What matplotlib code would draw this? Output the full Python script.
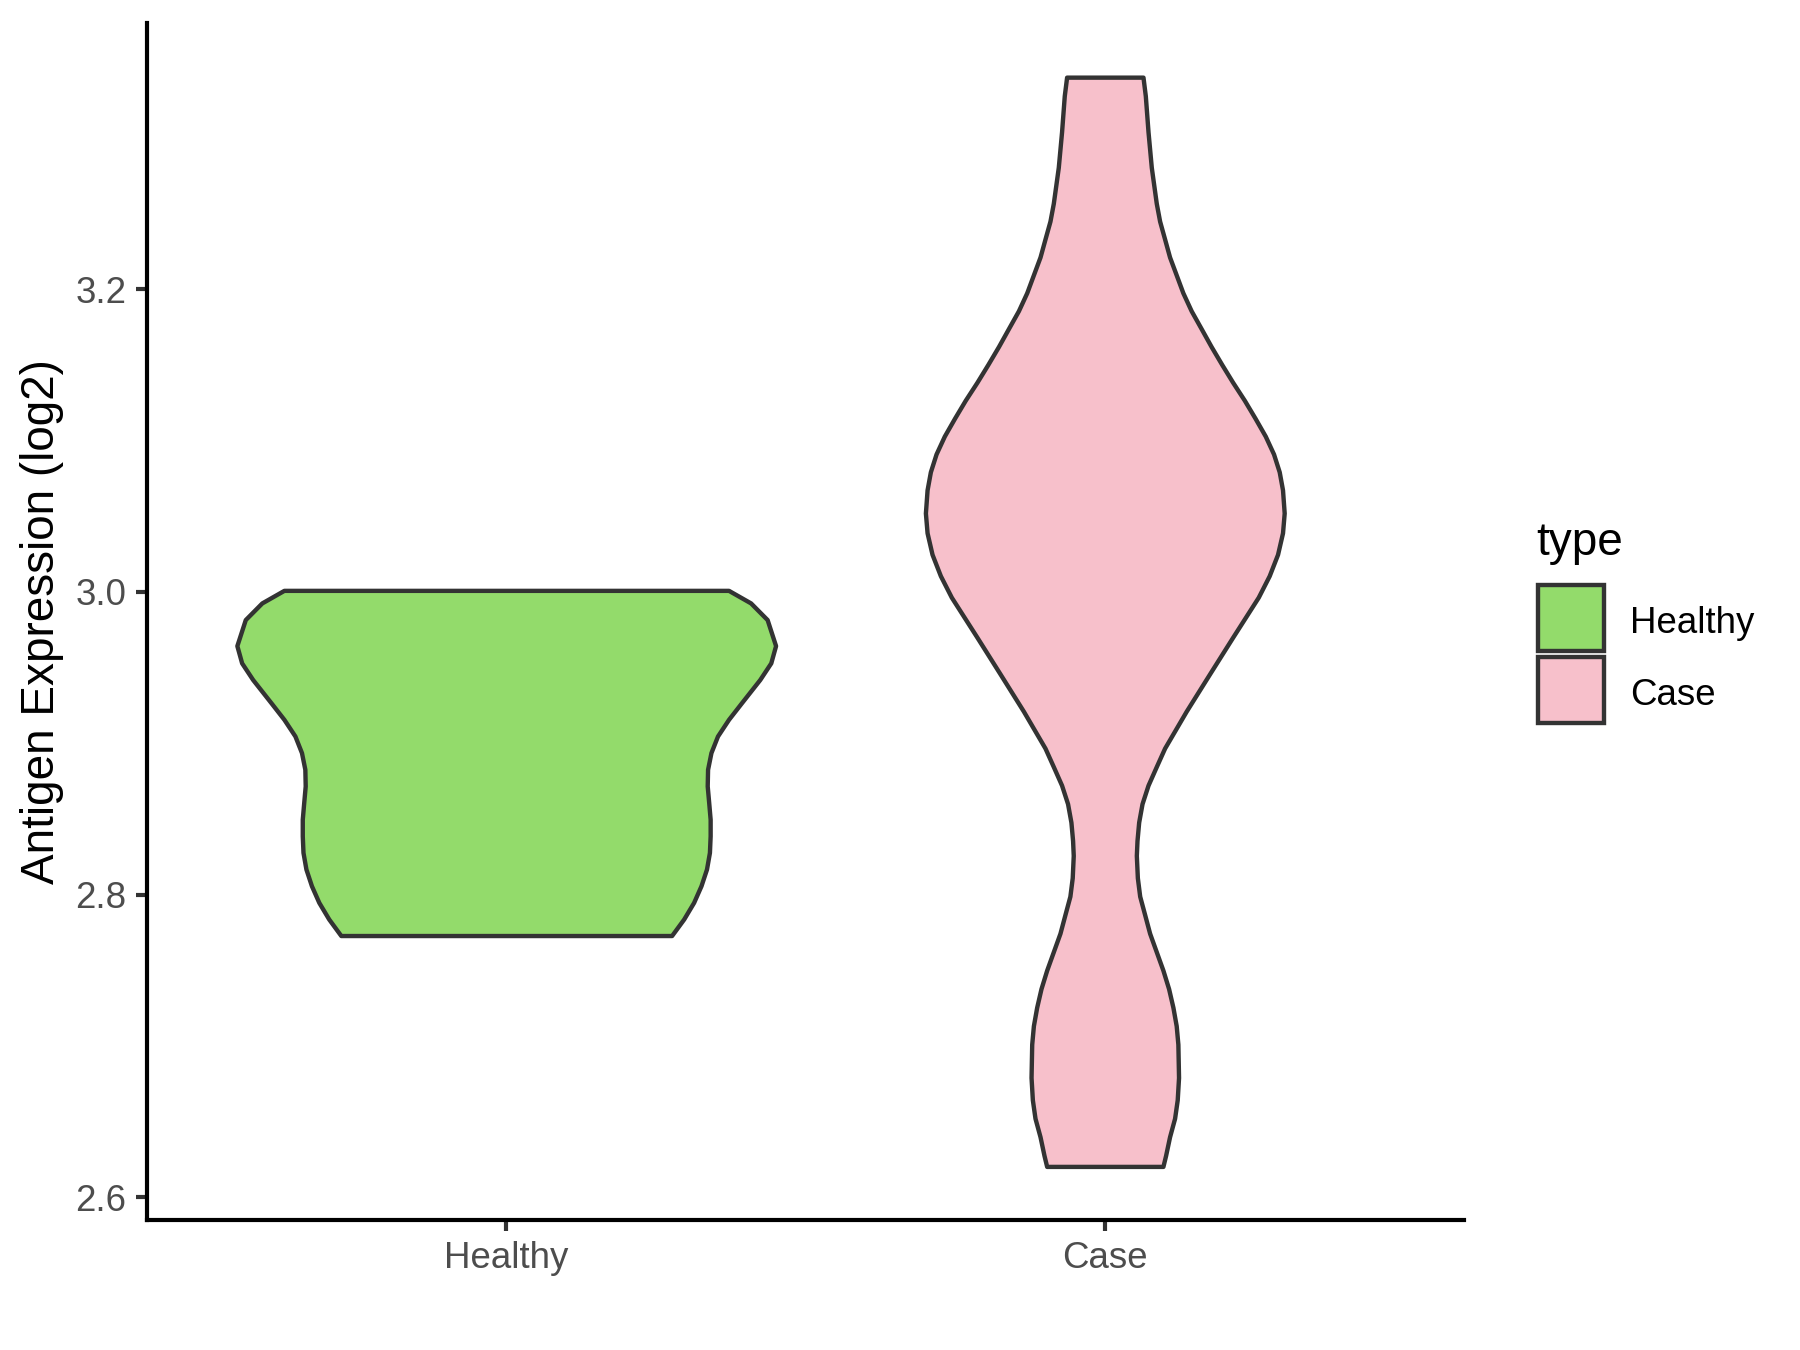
import matplotlib
matplotlib.use("Agg")
import matplotlib.pyplot as plt
from matplotlib.patches import Rectangle
import numpy as np

plt.rcParams['font.family'] = ['Liberation Sans', 'DejaVu Sans']

# ---- data ----
categories = ["Healthy", "Case"]
colors = ["#93DB6B", "#F7C0CB"]
legend_title = "type"
y_label = "Antigen Expression (log2)"
y_ticks = [2.6, 2.8, 3.0, 3.2]
y_tick_labels = ["2.6", "2.8", "3.0", "3.2"]

# violin profiles: y value and half-width (in x-axis units)
healthy_y = [3.0010, 2.9927, 2.9817, 2.9645, 2.9531, 2.9421, 2.9267, 2.9158,
             2.9048, 2.8938, 2.8828, 2.8718, 2.8608, 2.8498, 2.8389, 2.8279,
             2.8169, 2.8059, 2.7949, 2.7839, 2.7730]
healthy_hw = [0.3714, 0.4083, 0.4359, 0.4500, 0.4420, 0.4236, 0.3929, 0.3714,
              0.3530, 0.3420, 0.3364, 0.3358, 0.3383, 0.3407, 0.3407, 0.3395,
              0.3346, 0.3254, 0.3131, 0.2965, 0.2763]

case_y = [3.3400, 3.3277, 3.3040, 3.2804, 3.2567, 3.2449, 3.2331, 3.2212,
          3.2094, 3.1976, 3.1857, 3.1739, 3.1621, 3.1502, 3.1384, 3.1266,
          3.1148, 3.1029, 3.0911, 3.0793, 3.0674, 3.0521, 3.0390, 3.0248,
          3.0107, 2.9965, 2.9701, 2.9457, 2.9212, 2.8968, 2.8846, 2.8723,
          2.8601, 2.8479, 2.8357, 2.8259, 2.8112, 2.7990, 2.7868, 2.7745,
          2.7623, 2.7501, 2.7379, 2.7256, 2.7134, 2.7012, 2.6792, 2.6645,
          2.6523, 2.6401, 2.6278, 2.6205]
case_hw = [0.0638, 0.0677, 0.0722, 0.0777, 0.0860, 0.0916, 0.0999, 0.1082,
           0.1193, 0.1304, 0.1443, 0.1610, 0.1776, 0.1954, 0.2137, 0.2331,
           0.2509, 0.2681, 0.2819, 0.2914, 0.2969, 0.2997, 0.2969, 0.2886,
           0.2747, 0.2564, 0.2137, 0.1748, 0.1360, 0.0999, 0.0860, 0.0722,
           0.0622, 0.0566, 0.0538, 0.0527, 0.0544, 0.0583, 0.0666, 0.0749,
           0.0860, 0.0971, 0.1066, 0.1138, 0.1193, 0.1221, 0.1232, 0.1210,
           0.1166, 0.1082, 0.1016, 0.0971]

profiles = [(healthy_y, healthy_hw), (case_y, case_hw)]

# ---- figure ----
fig = plt.figure(figsize=(6, 4.5), dpi=300)
ax = fig.add_axes([0.0817, 0.0963, 0.8133 - 0.0817, 0.983 - 0.0963])

edge = "#333333"
for i, ((yy, hw), col) in enumerate(zip(profiles, colors)):
    c = i + 1
    yy = np.asarray(yy)
    hw = np.asarray(hw)
    ax.fill_betweenx(yy, c - hw, c + hw, facecolor=col, edgecolor=edge,
                     linewidth=1.05, joinstyle='round', zorder=2)

ax.set_xlim(0.4, 2.6)
ax.set_ylim(2.5851, 3.3758)
ax.set_xticks([1, 2])
ax.set_xticklabels(categories)
ax.set_yticks(y_ticks)
ax.set_yticklabels(y_tick_labels)

for s in ["top", "right"]:
    ax.spines[s].set_visible(False)
for s in ["left", "bottom"]:
    ax.spines[s].set_linewidth(1.0)
    ax.spines[s].set_color("black")

ax.tick_params(axis='both', length=2.75, width=1.0, color=edge,
               labelcolor="#4D4D4D", labelsize=8.8, pad=2.2)

ax.text(-0.0797, 0.5, y_label, transform=ax.transAxes, rotation=90,
        ha='center', va='center', fontsize=11, color='black')

# ---- legend ----
fig.text(0.8533, 0.598, legend_title, fontsize=11, ha='left', va='center',
         color='black')
key_x, key_w, key_h = 0.8544, 0.0367, 0.0489
key_bottoms = [0.5178, 0.4644]
for lab, col, kb in zip(categories, colors, key_bottoms):
    fig.add_artist(Rectangle((key_x, kb), key_w, key_h, transform=fig.transFigure,
                             facecolor=col, edgecolor=edge, linewidth=1.05))
    fig.text(0.9056, kb + key_h / 2 - 0.004, lab, fontsize=8.8, ha='left',
             va='center', color='black')

fig.savefig("out.png", dpi=300)
